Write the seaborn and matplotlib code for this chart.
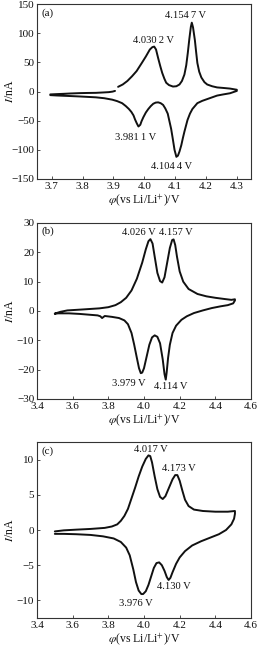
import matplotlib
matplotlib.use("Agg")
import matplotlib.pyplot as plt
import seaborn as sns
import pandas as pd

# ---------------- data ----------------
# Panel (a): upper (anodic) branch right part, lower (cathodic) branch, upper-left part
a_up_x = [3.915, 3.93, 3.945, 3.96, 3.975, 3.992, 4.005, 4.018, 4.026, 4.032, 4.038, 4.045, 4.052, 4.058, 4.065,
          4.071, 4.08, 4.093, 4.104, 4.114, 4.122, 4.13, 4.136, 4.141, 4.146, 4.151, 4.154, 4.158, 4.164, 4.168,
          4.172, 4.178, 4.185, 4.195, 4.204, 4.22, 4.236, 4.258, 4.278, 4.30]
a_up_y = [8, 12, 18, 26, 35, 49, 60, 72, 76, 77, 72, 57, 43, 32, 22,
          15, 11, 8.5, 9, 12, 18, 29, 45, 66, 90, 111, 118, 110, 88, 68,
          49, 34, 24, 16, 12, 9, 7, 6, 5, 3]
a_lo_x = [4.30, 4.278, 4.256, 4.236, 4.22, 4.204, 4.188, 4.172, 4.156, 4.148, 4.14, 4.13, 4.125, 4.12, 4.114,
          4.109, 4.104, 4.098, 4.092, 4.087, 4.076, 4.068, 4.061, 4.053, 4.045, 4.037, 4.029, 4.021, 4.013, 4.005,
          3.997, 3.991, 3.987, 3.981, 3.976, 3.97, 3.965, 3.958, 3.95, 3.94, 3.928, 3.912, 3.896, 3.87, 3.843,
          3.815, 3.79, 3.76, 3.737, 3.715, 3.695]
a_lo_y = [1, -3, -5, -7, -10, -13, -16, -20, -30, -38, -49, -69, -80, -92, -103,
          -110, -112, -100, -80, -64, -38, -29, -23, -20, -18.6, -19, -21, -25, -30, -36,
          -44, -51, -57, -60, -55, -48, -41, -35, -30, -25, -20, -16.5, -14, -11.5, -10,
          -9.2, -8.5, -7.8, -7.3, -6.8, -6.2]
a_ul_x = [3.695, 3.715, 3.737, 3.76, 3.79, 3.815, 3.843, 3.865, 3.885, 3.897, 3.905]
a_ul_y = [-5, -4.5, -4, -3.4, -2.8, -2.5, -2.3, -1.7, -1.1, -0.2, 1]

# Panel (b)
b_up_x = [3.50, 3.53, 3.57, 3.65, 3.75, 3.80, 3.84, 3.87, 3.90, 3.93, 3.96, 3.99, 4.01, 4.025, 4.036,
          4.048, 4.06, 4.075, 4.09, 4.102, 4.115, 4.13, 4.145, 4.158, 4.166, 4.175, 4.185, 4.20, 4.22, 4.25,
          4.30, 4.35, 4.40, 4.45, 4.49, 4.51]
b_up_y = [-0.9, -0.3, 0.2, 0.5, 0.9, 1.3, 2.0, 3.0, 4.5, 7.0, 11, 16.5, 21, 23.8, 24.5,
          23, 18.5, 13, 10.2, 9.7, 11.5, 16.5, 21.5, 24.2, 24.4, 22.5, 18.5, 13.5, 10, 7.5,
          5.8, 5.0, 4.5, 4.1, 3.8, 4.0]
b_lo_x = [4.51, 4.50, 4.47, 4.43, 4.38, 4.33, 4.28, 4.24, 4.21, 4.18, 4.16, 4.145, 4.135, 4.127, 4.122,
          4.115, 4.105, 4.09, 4.075, 4.06, 4.045, 4.03, 4.015, 4.00, 3.99, 3.982, 3.972, 3.96, 3.945, 3.93,
          3.91, 3.89, 3.86, 3.82, 3.78, 3.765, 3.755, 3.74, 3.70, 3.64, 3.58, 3.52, 3.50]
b_lo_y = [3.6, 2.6, 2.0, 1.6, 1.0, 0.2, -0.7, -1.8, -3.0, -5.0, -7.5, -11.5, -16, -21, -23.4,
          -21.5, -16.5, -11, -8.8, -8.3, -9, -11.5, -15.5, -19.5, -21, -21.2, -19.5, -16, -11.5, -7.5,
          -4.5, -3.2, -2.4, -2.0, -1.7, -2.4, -1.8, -1.5, -1.3, -1.0, -0.8, -0.8, -0.9]

# Panel (c)
c_up_x = [3.50, 3.55, 3.62, 3.70, 3.78, 3.82, 3.85, 3.87, 3.89, 3.91, 3.93, 3.95, 3.97, 3.99, 4.01,
          4.025, 4.035, 4.045, 4.06, 4.075, 4.09, 4.105, 4.12, 4.14, 4.16, 4.175, 4.187, 4.20, 4.215, 4.23,
          4.25, 4.28, 4.33, 4.40, 4.47, 4.51]
c_up_y = [-0.2, -0.05, 0.05, 0.15, 0.3, 0.5, 0.8, 1.3, 2.0, 3.0, 4.5, 6.0, 7.6, 9.0, 10.1,
          10.6, 10.5, 9.6, 7.6, 5.8, 4.7, 4.4, 4.8, 6.0, 7.2, 7.8, 7.8, 7.0, 5.6, 4.3,
          3.4, 2.9, 2.7, 2.6, 2.6, 2.7]
c_lo_x = [4.51, 4.505, 4.49, 4.46, 4.42, 4.37, 4.32, 4.27, 4.23, 4.20, 4.18, 4.16, 4.148, 4.138, 4.128,
          4.115, 4.10, 4.085, 4.07, 4.055, 4.04, 4.025, 4.01, 3.995, 3.985, 3.97, 3.955, 3.94, 3.92, 3.90,
          3.87, 3.83, 3.77, 3.70, 3.62, 3.55, 3.50]
c_lo_y = [2.3, 1.6, 0.8, 0.0, -0.6, -1.1, -1.6, -2.2, -3.0, -3.9, -4.8, -6.0, -6.8, -7.1, -6.7,
          -5.8, -5.0, -4.6, -4.7, -5.4, -6.6, -7.8, -8.7, -9.1, -9.1, -8.6, -7.4, -5.6, -3.6, -2.5,
          -1.7, -1.2, -0.9, -0.7, -0.6, -0.55, -0.55]

panel_tags = ["(a)", "(b)", "(c)"]
a_yticks = [-150, -100, -50, 0, 50, 100, 150]
a_xticks = [3.7, 3.8, 3.9, 4.0, 4.1, 4.2, 4.3]
bc_xticks = [3.4, 3.6, 3.8, 4.0, 4.2, 4.4, 4.6]
b_yticks = [-30, -20, -10, 0, 10, 20, 30]
c_yticks = [-10, -5, 0, 5, 10]

a_labels = ["4.154\u20097 V", "4.030\u20092 V", "3.981\u20091 V", "4.104\u20094 V"]
a_lab_xy = [(4.135, 131), (4.029, 88), (3.972, -78), (4.088, -128)]
b_labels = ["4.026 V", "4.157 V", "3.979 V", "4.114 V"]
b_lab_xy = [(3.97, 26.6), (4.177, 26.6), (3.914, -24.6), (4.149, -25.8)]
c_labels = ["4.017 V", "4.173 V", "4.130 V", "3.976 V"]
c_lab_xy = [(4.036, 11.5), (4.196, 8.8), (4.168, -8.0), (3.955, -10.4)]

# ---------------- style ----------------
sns.set_theme(style="white")
plt.rcParams["font.family"] = ["Liberation Serif", "DejaVu Serif"]
plt.rcParams["mathtext.fontset"] = "stix"
plt.rcParams["axes.edgecolor"] = "#333333"
plt.rcParams["axes.linewidth"] = 0.8

fig = plt.figure(figsize=(2.59, 6.51), dpi=100)
L, W = 37 / 259, 214 / 259
positions = [
    [L, 1 - 179 / 651, W, 175 / 651],
    [L, 1 - 399 / 651, W, 176 / 651],
    [L, 1 - 618 / 651, W, 176 / 651],
]
axes = [fig.add_axes(p) for p in positions]

line_color = "#111111"
lw = 1.4


def draw(ax, xs, ys):
    df = pd.DataFrame({"phi": xs, "I": ys})
    sns.lineplot(data=df, x="phi", y="I", sort=False, estimator=None, ax=ax,
                 color=line_color, linewidth=lw)


# panel a
draw(axes[0], a_up_x + a_lo_x + a_ul_x, a_up_y + a_lo_y + a_ul_y)
# panel b
draw(axes[1], b_up_x + b_lo_x, b_up_y + b_lo_y)
# panel c
draw(axes[2], c_up_x + c_lo_x, c_up_y + c_lo_y)

axes[0].set_xlim(3.652, 4.346)
axes[0].set_ylim(-150, 150)
axes[0].set_xticks(a_xticks)
axes[0].set_xticklabels([f"{v:.1f}" for v in a_xticks])
axes[0].set_yticks(a_yticks)
axes[0].set_yticklabels([str(v).replace("-", "\u2212") for v in a_yticks])

for ax in axes[1:]:
    ax.set_xlim(3.4, 4.6)
    ax.set_xticks(bc_xticks)
    ax.set_xticklabels([f"{v:.1f}" for v in bc_xticks])
axes[1].set_ylim(-30, 30)
axes[1].set_yticks(b_yticks)
axes[1].set_yticklabels([str(v).replace("-", "\u2212") for v in b_yticks])
axes[2].set_ylim(-12.5, 12.5)
axes[2].set_yticks(c_yticks)
axes[2].set_yticklabels([str(v).replace("-", "\u2212") for v in c_yticks])

tag_y = [0.975, 0.98, 0.975]
for ax, tag, ty in zip(axes, panel_tags, tag_y):
    ax.set_xlabel(r"$\varphi$(vs Li/Li$^{+}$)/V", fontsize=8.5, labelpad=1.5, color="#111111")
    ax.set_ylabel(r"$I$/nA", fontsize=8.5, color="#111111", va="center")
    ax.yaxis.set_label_coords(-0.125, 0.5)
    ax.tick_params(axis="both", direction="in", length=2.5, width=0.6, labelsize=8,
                   colors="#333333", labelcolor="#111111", pad=2,
                   bottom=True, left=True, top=False, right=False)
    ax.text(0.022, ty, tag, transform=ax.transAxes, ha="left", va="top", fontsize=8, color="#111111")
    for s in ax.spines.values():
        s.set_visible(True)

for ax, labs, xy in zip(axes, [a_labels, b_labels, c_labels], [a_lab_xy, b_lab_xy, c_lab_xy]):
    for t, (x, y) in zip(labs, xy):
        ax.text(x, y, t, ha="center", va="center", fontsize=7.6, color="#111111")

fig.savefig("out.png", dpi=100, facecolor="white")
